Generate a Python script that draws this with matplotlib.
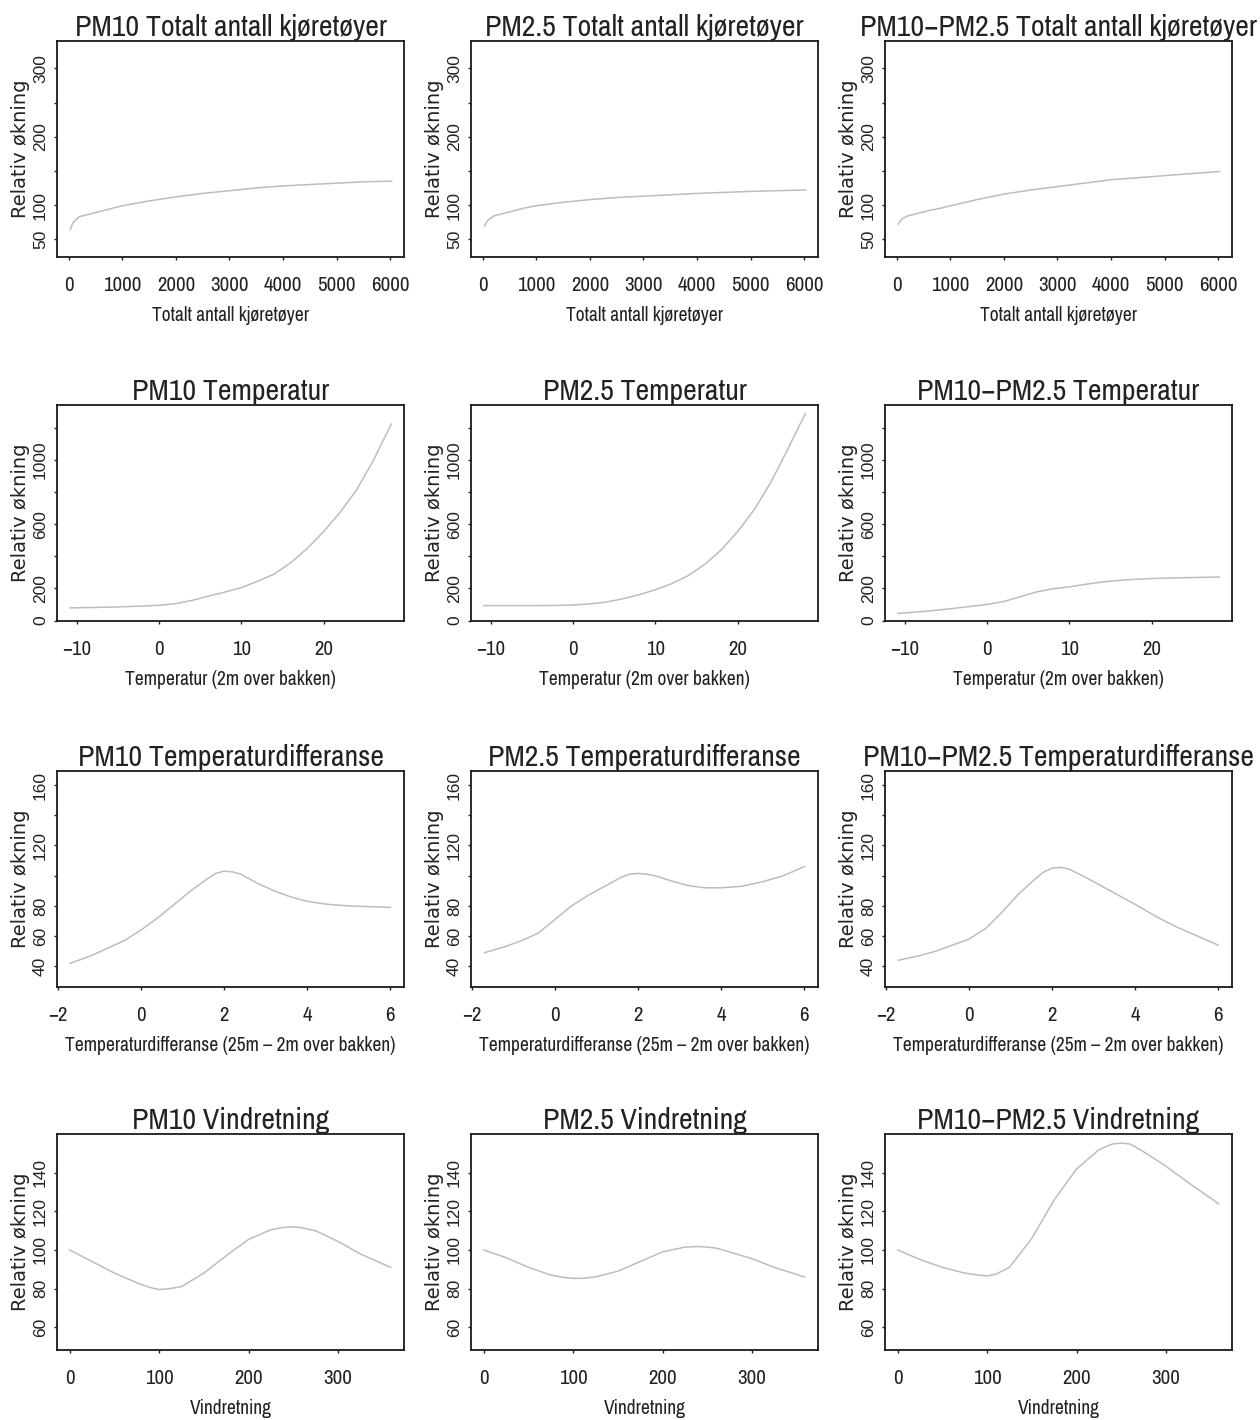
import numpy as np
import matplotlib
matplotlib.use("Agg")
from matplotlib import pyplot as plt
from matplotlib import font_manager
from matplotlib.ticker import FixedLocator, FixedFormatter

# --- data ---
species = ["PM10", "PM2.5", "PM10\u2212PM2.5"]

traffic_x = [30, 60, 100, 150, 200, 300, 400, 600, 800, 1000, 1500, 2000,
             2500, 3000, 3500, 4000, 4500, 5000, 5500, 6030]
traffic_pm10 = [64, 71, 76, 80, 83, 85, 87, 91, 95, 99, 106, 112,
                117, 121, 125, 128, 130, 132, 134, 135]
traffic_pm25 = [69, 74, 78, 81, 84, 86, 88, 92, 96, 99, 104, 108,
                111, 113, 115, 117, 118.5, 120, 121, 122]
traffic_coarse = [72, 76, 80, 82, 84, 86, 88, 92, 95, 99, 108, 116,
                  122, 127, 132, 137, 140, 143, 146, 149]

temp_x = [-10.8, -8, -5, -2, 0, 2, 4, 6, 8, 10, 12, 14, 16, 18, 20,
          22, 24, 26, 28.2]
temp_pm10 = [79, 81, 85, 90, 95, 105, 125, 152, 177, 205, 245, 290, 360,
             450, 555, 675, 815, 995, 1225]
temp_pm25 = [93, 93, 93, 94, 97, 103, 115, 135, 160, 192, 230, 280, 350,
             440, 555, 690, 860, 1060, 1290]
temp_coarse = [44, 55, 70, 88, 100, 118, 148, 178, 198, 210, 226, 240, 250,
               257, 262, 265, 267, 269, 271]

tdiff_x = [-1.7, -1.2, -0.8, -0.4, 0, 0.4, 0.8, 1.2, 1.6, 1.8, 2.0, 2.2, 2.4, 2.8,
           3.2, 3.6, 4.0, 4.5, 5.0, 5.5, 6.0]
tdiff_pm10 = [42, 47, 52, 57, 64, 72, 81, 90, 98, 101.5, 103, 102.5, 101, 95,
              90, 86, 83, 81, 80, 79.5, 79]
tdiff_pm25 = [49, 53, 57, 62, 71, 80, 87, 93, 99, 101, 101.5, 101, 100, 96.5,
              93.5, 92, 92, 93, 96, 100, 106]
tdiff_coarse = [44, 47, 50, 54, 58, 65, 76, 88, 98, 102.5, 105, 105.5, 104.5, 99,
                93, 87, 81, 73, 66, 60, 54]

wind_x = [0, 25, 50, 75, 90, 100, 110, 125, 150, 175, 200, 225, 240, 250, 260,
          275, 300, 325, 359]
wind_pm10 = [100, 94, 88, 83, 80.5, 79.5, 79.8, 81, 88, 97, 105.5, 110.5, 111.8,
             112, 111.5, 110, 104.5, 98, 91]
wind_pm25 = [100, 96, 91, 87, 85.7, 85.3, 85.3, 86, 89, 94, 99, 101.5, 101.8,
             101.5, 101, 99, 95.5, 91, 86]
wind_coarse = [100, 95, 91, 88, 87, 86.5, 87.5, 91, 106, 126, 142, 152, 155,
               155.5, 155, 151, 143.5, 135, 124]

rows = [
    dict(name="Totalt antall kjøretøyer", xlabel="Totalt antall kjøretøyer",
         x=traffic_x, ys=[traffic_pm10, traffic_pm25, traffic_coarse],
         xticks=[0, 1000, 2000, 3000, 4000, 5000, 6000],
         yticks=[50, 100, 150, 200, 250, 300],
         ylabels=["50", "100", "", "200", "", "300"],
         xlim=(-220, 6260), ylim=(24, 340)),
    dict(name="Temperatur", xlabel="Temperatur (2m over bakken)",
         x=temp_x, ys=[temp_pm10, temp_pm25, temp_coarse],
         xticks=[-10, 0, 10, 20],
         yticks=[0, 200, 400, 600, 800, 1000, 1200],
         ylabels=["0", "200", "", "600", "", "1000", ""],
         xlim=(-12.37, 29.75), ylim=(-3, 1344)),
    dict(name="Temperaturdifferanse",
         xlabel="Temperaturdifferanse (25m \u2013 2m over bakken)",
         x=tdiff_x, ys=[tdiff_pm10, tdiff_pm25, tdiff_coarse],
         xticks=[-2, 0, 2, 4, 6],
         yticks=[40, 60, 80, 100, 120, 140, 160],
         ylabels=["40", "60", "80", "", "120", "", "160"],
         xlim=(-2.02, 6.33), ylim=(26.3, 169.3)),
    dict(name="Vindretning", xlabel="Vindretning",
         x=wind_x, ys=[wind_pm10, wind_pm25, wind_coarse],
         xticks=[0, 100, 200, 300],
         yticks=[60, 80, 100, 120, 140],
         ylabels=["60", "80", "100", "120", "140"],
         xlim=(-14.3, 374), ylim=(48.1, 160.2)),
]


def find_narrow():
    # any condensed / narrow sans installed?
    for f in font_manager.fontManager.ttflist:
        nm = f.name.lower()
        if ("narrow" in nm or "condensed" in nm) and "mono" not in nm:
            return f.name, True
    return "Liberation Sans", False


narrow, is_narrow = find_narrow()
title_size = 21.5 if is_narrow else 18
xtick_size = 15 if is_narrow else 13
xlab_size = 14 if is_narrow else 12

W, H = 1260, 1420
fig = plt.figure(figsize=(W / 100, H / 100), dpi=100)

col_left = [57, 471, 885]
row_top = [41, 405, 771, 1134]
aw, ah = 347, 216

for r, row in enumerate(rows):
    for c in range(3):
        left = col_left[c] / W
        bottom = 1 - (row_top[r] + ah) / H
        ax = fig.add_axes([left, bottom, aw / W, ah / H])
        ax.plot(row["x"], row["ys"][c], color="#bdbdbd", lw=1.1)
        ax.set_xlim(*row["xlim"])
        ax.set_ylim(*row["ylim"])
        for s in ax.spines.values():
            s.set_linewidth(1.3)
            s.set_color("#1a1a1a")

        ax.xaxis.set_major_locator(FixedLocator(row["xticks"]))
        ax.set_xticklabels(["\u2212" + str(-t) if t < 0 else str(t) for t in row["xticks"]],
                           fontfamily=narrow, fontsize=xtick_size, color="#222222")
        ax.yaxis.set_major_locator(FixedLocator(row["yticks"]))
        ax.yaxis.set_major_formatter(FixedFormatter(row["ylabels"]))
        ax.tick_params(axis="both", direction="out", length=2.5, width=1.0,
                       color="#222222")
        ax.tick_params(axis="x", pad=11)
        ax.tick_params(axis="y", pad=4)
        for lab in ax.get_yticklabels():
            lab.set_rotation(90)
            lab.set_va("center")
            lab.set_ha("right")
            lab.set_fontfamily("Liberation Sans")
            lab.set_fontsize(12.5)
            lab.set_color("#222222")

        ax.set_title(species[c] + " " + row["name"], fontfamily=narrow,
                     fontsize=title_size, pad=0, color="#222222")
        ax.text(0.5, -0.272, row["xlabel"], transform=ax.transAxes,
                ha="center", va="center", fontfamily=narrow, fontsize=xlab_size,
                color="#222222")
        ax.text(-0.106, 0.5, "Relativ økning", transform=ax.transAxes,
                rotation=90, ha="center", va="center", fontfamily="DejaVu Sans",
                fontsize=14, color="#222222")

fig.savefig("out.png", dpi=100, facecolor="white")
